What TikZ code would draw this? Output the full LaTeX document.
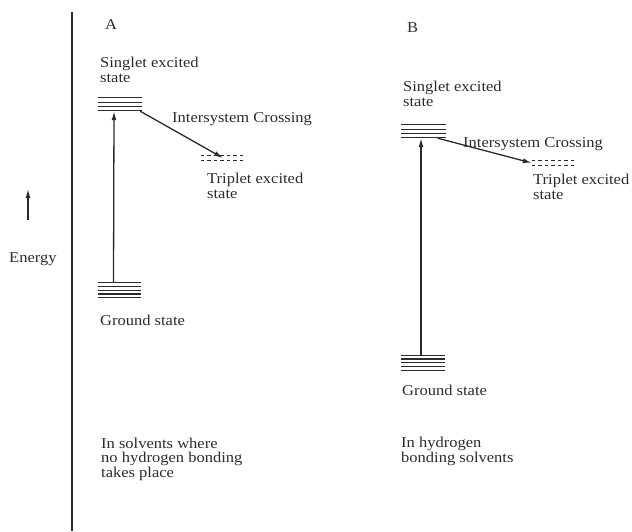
\documentclass[tikz,border=0pt]{standalone}
\usepackage{fontspec}
\setmainfont{Liberation Serif}[FakeStretch=1.1]
\usetikzlibrary{arrows.meta}
\definecolor{ink}{HTML}{2B2B2B}

\tikzset{
	lbl/.style = {anchor = base west, inner sep = 0, align = left, text = ink, font = \fontsize{15}{14.5}\selectfont},
	lvl/.style = {inner sep = 0, minimum width = 44pt, minimum height = 13pt},
	gnd/.style = {inner sep = 0, minimum width = 43pt, minimum height = 15pt},
	trip/.style = {inner sep = 0, minimum width = 44pt, minimum height = 4pt},
	arr/.style = {-{Latex[length = 9pt, width = 5pt]}, draw = ink, line width = 1.3pt},
}

\begin{document}
\begin{tikzpicture}[x = 1pt, y = -1pt]
	\useasboundingbox (0,0) rectangle (632,531);
	% energy axis
	\draw[ink, line width = 1.3pt] (72,12) -- (72,531);
	\draw[arr] (28,220) -- (28,189);
	\node[lbl] (energy) at (9,262) {Energy};

	% A: no hydrogen bonding
	\node[lbl] (titleA) at (105,29) {A};
	\node[lvl] (S1) at (120,104.5) {};
	\node[gnd] (G1) at (119.5,290.5) {};
	\node[trip] (T1) at (223,158) {};
	\node[lbl] (singA) at (100,82) {Singlet excited\\state};
	\node[lbl] (iscA) at (172,122) {Intersystem Crossing};
	\node[lbl] (tripA) at (207,198) {Triplet excited\\state};
	\node[lbl] (groundA) at (100,325) {Ground state};
	\node[lbl] (solvA) at (101,477) {In solvents where\\no hydrogen bonding\\takes place};

	% B: hydrogen bonding
	\node[lbl] (titleB) at (407,32) {B};
	\node[lvl] (S2) at (423.5,131.5) {};
	\node[gnd] (G2) at (423,363) {};
	\node[trip] (T2) at (554,163) {};
	\node[lbl] (singB) at (403,106) {Singlet excited\\state};
	\node[lbl] (iscB) at (463,147) {Intersystem Crossing};
	\node[lbl] (tripB) at (533,199) {Triplet excited\\state};
	\node[lbl] (groundB) at (402,395) {Ground state};
	\node[lbl] (solvB) at (401,462) {In hydrogen\\bonding solvents};

	% levels
	\foreach \n in {S1,S2}
		\foreach \i in {0,...,3}
			\draw[ink, line width = 1.2pt] ([yshift = -\i*4.33pt]\n.north west) -- ([yshift = -\i*4.33pt]\n.north east);
	\foreach \n in {G1,G2}
		\foreach \i in {0,...,4}
			\draw[ink, line width = 1.2pt] ([yshift = -\i*3.75pt]\n.north west) -- ([yshift = -\i*3.75pt]\n.north east);
	\foreach \n in {T1,T2}
		\draw[ink, line width = 1.1pt, dash pattern = on 3.5pt off 3pt]
		(\n.north west) -- (\n.north east)
		(\n.south west) -- (\n.south east);

	% transitions
	\draw[arr] ([xshift = -6pt]G1.north) -- ([xshift = -6pt]S1.south);
	\draw[arr] ([xshift = -2pt]G2.north) -- ([xshift = -2.5pt]S2.south);
	\draw[arr] ([xshift = -2pt]S1.south east) -- (T1.center);
	\draw[arr] ([xshift = -8pt]S2.south east) -- (T2.west);
\end{tikzpicture}
\end{document}
